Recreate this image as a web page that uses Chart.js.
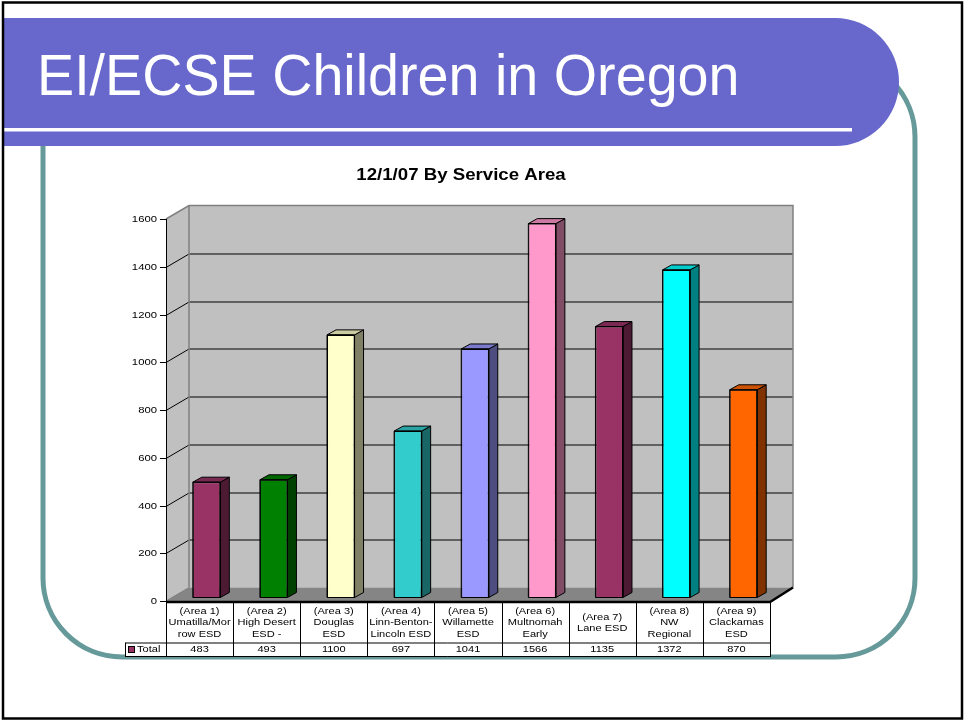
<!DOCTYPE html>
<html>
<head>
<meta charset="utf-8">
<script src="https://cdn.jsdelivr.net/npm/chart.js@4/dist/chart.umd.min.js"></script>
<style>
  html, body { margin: 0; padding: 0; background: #fff; }
  canvas { display: block; }
</style>
</head>
<body>
<canvas id="c" width="965" height="721"></canvas>
<script>
// ---- data ----
const slideTitle = "EI/ECSE Children in Oregon";
const chartTitle = "12/1/07 By Service Area";
const categories = [
  ["(Area 1)", "Umatilla/Mor", "row ESD"],
  ["(Area 2)", "High Desert", "ESD -"],
  ["(Area 3)", "Douglas", "ESD"],
  ["(Area 4)", "Linn-Benton-", "Lincoln ESD"],
  ["(Area 5)", "Willamette", "ESD"],
  ["(Area 6)", "Multnomah", "Early"],
  ["(Area 7)", "Lane ESD"],
  ["(Area 8)", "NW", "Regional"],
  ["(Area 9)", "Clackamas", "ESD"]
];
const seriesName = "Total";
const totals = [483, 493, 1100, 697, 1041, 1566, 1135, 1372, 870];
const yTicks = [0, 200, 400, 600, 800, 1000, 1200, 1400, 1600];

// ---- styles ----
const barColors = ["#993366", "#008000", "#FFFFCC", "#33CCCC", "#9999FF", "#FF99CC", "#993366", "#00FFFF", "#FF6600"];
const seriesColor = "#993366";
const FONT = '"Liberation Sans", Arial, sans-serif';
const DEPTH = { dx: 23, dy: -13.5 };
const BAR_SHIFT = { dx: 7, dy: -3.5 };
const BAR_DEPTH = { dx: 9, dy: -5 };

function shade(hex, f) {
  const n = parseInt(hex.slice(1), 16);
  const r = Math.round(((n >> 16) & 255) * f);
  const g = Math.round(((n >> 8) & 255) * f);
  const b = Math.round((n & 255) * f);
  return `rgb(${r},${g},${b})`;
}
function txt(ctx, s, x, y, font, align, base, sx, color) {
  ctx.save();
  ctx.translate(x, y);
  ctx.scale(sx, 1);
  ctx.font = font;
  ctx.textAlign = align;
  ctx.textBaseline = base;
  ctx.fillStyle = color || "#000";
  ctx.fillText(s, 0, 0);
  ctx.restore();
}
function poly(ctx, pts, fill, stroke, lw) {
  ctx.beginPath();
  ctx.moveTo(pts[0][0], pts[0][1]);
  for (let i = 1; i < pts.length; i++) ctx.lineTo(pts[i][0], pts[i][1]);
  ctx.closePath();
  if (fill) { ctx.fillStyle = fill; ctx.fill(); }
  if (stroke) { ctx.strokeStyle = stroke; ctx.lineWidth = lw || 1; ctx.stroke(); }
}

const slidePlugin = {
  id: "slide",
  beforeDraw(chart) {
    const ctx = chart.ctx;
    const W = chart.width, H = chart.height;
    ctx.save();
    ctx.fillStyle = "#fff";
    ctx.fillRect(0, 0, W, H);

    // teal rounded frame
    ctx.beginPath();
    ctx.roundRect(43, 58, 872, 599, 79);
    ctx.strokeStyle = "#669999";
    ctx.lineWidth = 5;
    ctx.stroke();

    // banner
    ctx.beginPath();
    ctx.moveTo(3, 18);
    ctx.lineTo(835, 18);
    ctx.arc(835, 82, 64, -Math.PI / 2, Math.PI / 2);
    ctx.lineTo(3, 146);
    ctx.closePath();
    ctx.fillStyle = "#6767CC";
    ctx.fill();
    ctx.fillStyle = "#fff";
    ctx.fillRect(3, 128, 849, 3.5);
    txt(ctx, slideTitle, 37, 95, `58px ${FONT}`, "left", "alphabetic", 0.96, "#fff");

    // outer border
    ctx.strokeStyle = "#000";
    ctx.lineWidth = 2.5;
    ctx.strokeRect(3, 2.5, 959, 716);

    // chart title
    txt(ctx, chartTitle, 461, 180, `bold 16.5px ${FONT}`, "center", "alphabetic", 1.13);

    // 3D walls
    const ca = chart.chartArea;
    const y = chart.scales.y;
    const L = ca.left, R = ca.right, T = y.getPixelForValue(yTicks[yTicks.length - 1]), B = y.getPixelForValue(0);
    const dx = DEPTH.dx, dy = DEPTH.dy;
    poly(ctx, [[L, T], [L + dx, T + dy], [L + dx, B + dy], [L, B]], "#C0C0C0");
    poly(ctx, [[L + dx, T + dy], [R + dx, T + dy], [R + dx, B + dy], [L + dx, B + dy]], "#C0C0C0");
    poly(ctx, [[L, B], [L + dx, B + dy], [R + dx, B + dy], [R, B]], "#858585");

    // gridlines
    ctx.strokeStyle = "#000";
    ctx.lineWidth = 1;
    yTicks.forEach(v => {
      if (v <= 0 || v >= yTicks[yTicks.length - 1]) return;
      const py = Math.round(y.getPixelForValue(v)) + 0.5;
      ctx.beginPath();
      ctx.moveTo(L, py);
      ctx.lineTo(L + dx, py + dy);
      ctx.lineTo(R + dx, py + dy);
      ctx.stroke();
    });
    // wall edges
    ctx.strokeStyle = "#808080";
    ctx.lineWidth = 1.5;
    ctx.beginPath();
    ctx.moveTo(L, T);
    ctx.lineTo(L + dx, T + dy);
    ctx.lineTo(R + dx, T + dy);
    ctx.lineTo(R + dx, B + dy);
    ctx.moveTo(L + dx, T + dy);
    ctx.lineTo(L + dx, B + dy);
    ctx.stroke();
    ctx.lineWidth = 1;
    ctx.beginPath();
    ctx.moveTo(L, B);
    ctx.lineTo(L + dx, B + dy);
    ctx.stroke();

    // y axis
    ctx.strokeStyle = "#000";
    ctx.lineWidth = 1;
    ctx.beginPath();
    ctx.moveTo(L + 0.5, T);
    ctx.lineTo(L + 0.5, B);
    ctx.stroke();
    yTicks.forEach(v => {
      const py = Math.round(y.getPixelForValue(v)) + 0.5;
      ctx.beginPath();
      ctx.moveTo(L - 6, py);
      ctx.lineTo(L, py);
      ctx.stroke();
      txt(ctx, String(v), L - 9, py, `8.5px ${FONT}`, "right", "middle", 1.33);
    });
    ctx.restore();
  },
  beforeDatasetsDraw(chart) {
    chart.ctx.save();
    chart.ctx.translate(BAR_SHIFT.dx, BAR_SHIFT.dy);
  },
  afterDatasetsDraw(chart) {
    const ctx = chart.ctx;
    const meta = chart.getDatasetMeta(0);
    meta.data.forEach((el, i) => {
      const p = el.getProps(["x", "y", "base", "width"], true);
      const l = p.x - p.width / 2, r = p.x + p.width / 2, t = p.y, b = p.base;
      const c = barColors[i];
      poly(ctx, [[r, t], [r + BAR_DEPTH.dx, t + BAR_DEPTH.dy], [r + BAR_DEPTH.dx, b + BAR_DEPTH.dy], [r, b]], shade(c, 0.5), "#000", 1);
      poly(ctx, [[l, t], [l + BAR_DEPTH.dx, t + BAR_DEPTH.dy], [r + BAR_DEPTH.dx, t + BAR_DEPTH.dy], [r, t]], shade(c, 0.8), "#000", 1);
      poly(ctx, [[l, t], [r, t], [r, b], [l, b]], null, "#000", 1);
    });
    ctx.restore();
  },
  afterDraw(chart) {
    const ctx = chart.ctx;
    const ca = chart.chartArea;
    const x = chart.scales.x;
    const y = chart.scales.y;
    const L = ca.left, R = ca.right, B = y.getPixelForValue(0);
    const dx = DEPTH.dx, dy = DEPTH.dy;
    const rowTop = B, rowMid = 642.5, rowBot = 656;
    const cw = (R - L) / categories.length;
    ctx.save();
    // table backgrounds
    ctx.fillStyle = "#fff";
    ctx.fillRect(L, rowTop + 1, R - L, rowBot - rowTop - 1);
    ctx.fillRect(125.5, rowMid, L - 125.5, rowBot - rowMid);
    // lines
    ctx.strokeStyle = "#000";
    ctx.lineWidth = 1;
    ctx.beginPath();
    ctx.moveTo(125.5, rowMid + 0.5); ctx.lineTo(R, rowMid + 0.5);
    ctx.moveTo(125.5, rowBot + 0.5); ctx.lineTo(R, rowBot + 0.5);
    ctx.moveTo(125.5, rowMid); ctx.lineTo(125.5, rowBot + 1);
    for (let i = 0; i <= categories.length; i++) {
      const bx = Math.round(i < categories.length ? x.getPixelForValue(i) - cw / 2 : x.getPixelForValue(i - 1) + cw / 2) + 0.5;
      ctx.moveTo(bx, rowTop); ctx.lineTo(bx, rowBot + 1);
    }
    ctx.stroke();
    // floor front edge
    ctx.lineWidth = 2.5;
    ctx.beginPath();
    ctx.moveTo(L, B + 1);
    ctx.lineTo(R, B + 1);
    ctx.lineTo(R + dx, B + dy);
    ctx.stroke();
    // header labels
    categories.forEach((lines, i) => {
      const cx = x.getPixelForValue(i);
      const lh = 11.3;
      const start = 623 - (lines.length - 1) * lh / 2;
      lines.forEach((s, k) => txt(ctx, s, cx, start + k * lh, `8.5px ${FONT}`, "center", "middle", 1.3));
      txt(ctx, String(totals[i]), cx, 649.5, `8.5px ${FONT}`, "center", "middle", 1.3);
    });
    // legend key
    ctx.fillStyle = seriesColor;
    ctx.fillRect(129, 647, 5, 5);
    ctx.strokeStyle = "#000";
    ctx.lineWidth = 1;
    ctx.strokeRect(128.5, 646.5, 6, 6);
    txt(ctx, seriesName, 137, 649.5, `8.5px ${FONT}`, "left", "middle", 1.3);
    ctx.restore();
  }
};

new Chart(document.getElementById("c"), {
  type: "bar",
  data: {
    labels: categories,
    datasets: [{
      label: seriesName,
      data: totals,
      backgroundColor: barColors,
      borderColor: "#000",
      borderWidth: 1,
      barPercentage: 0.41,
      categoryPercentage: 1
    }]
  },
  options: {
    responsive: false,
    animation: false,
    devicePixelRatio: 1,
    layout: { padding: { left: 166, right: 195, top: 219, bottom: 120 } },
    plugins: { legend: { display: false }, tooltip: { enabled: false }, title: { display: false } },
    scales: {
      x: { display: false, offset: true },
      y: { display: false, min: 0, max: 1600, ticks: { stepSize: 200 } }
    }
  },
  plugins: [slidePlugin]
});
</script>
</body>
</html>
